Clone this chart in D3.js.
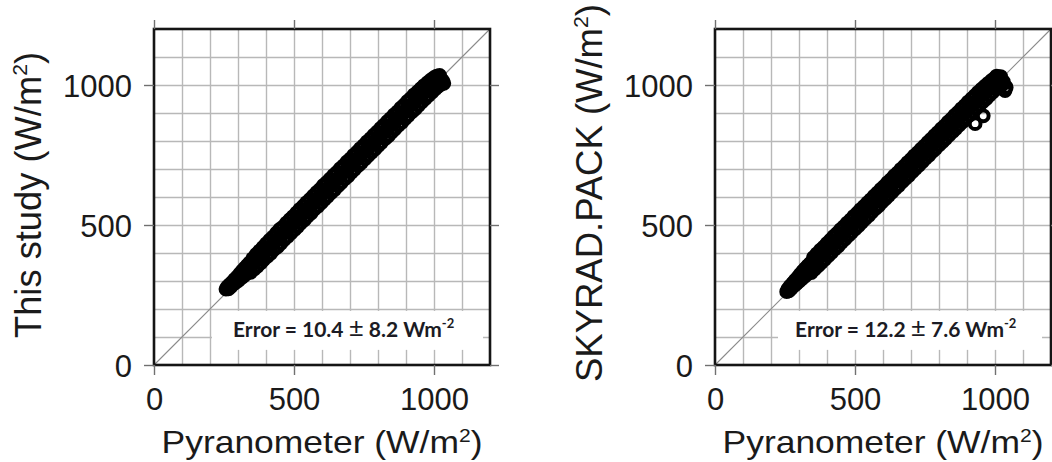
<!DOCTYPE html>
<html><head><meta charset="utf-8">
<script src="https://cdn.jsdelivr.net/npm/d3@7"></script>
<style>body{margin:0;background:#fff} svg{display:block}</style>
</head><body><svg id="c" width="1052" height="462"></svg>
<script>
// ---------- data ----------
const axisDomain = [0, 1200];
const tickValues = [0, 500, 1000];
const tickLabels = ["0", "500", "1000"];
const gridValues = [100, 200, 300, 400, 500, 600, 700, 800, 900, 1000, 1100];
const xTitle = "Pyranometer (W/m";
const yTitles = ["This study (W/m", "SKYRAD.PACK (W/m"];
const errorMean = [10.4, 12.2];
const errorSd = [8.2, 7.6];

// [pyranometer, this study] (W/m2)
const thisStudyPoints = [
[257,271],[262,279],[266,272],[270,287],[275,280],[279,295],[284,289],[288,305],[293,296],[297,314],
[302,303],[306,325],[311,311],[315,336],[320,318],[324,346],[329,326],[333,355],[338,333],[341,364],
[345,331],[349,357],[353,380],[357,342],[360,369],[365,395],[369,353],[372,380],[377,407],
[381,364],[385,393],[389,420],[392,377],[396,404],[401,433],[405,388],[408,418],[413,446],
[417,399],[421,429],[425,457],[428,412],[432,442],[437,471],[441,422],[445,453],[449,484],
[453,435],[457,466],[461,493],[465,448],[468,476],[473,507],[476,458],[480,489],[485,519],
[489,471],[493,502],[497,530],[501,483],[504,513],[509,543],[513,495],[517,527],[521,556],
[524,507],[528,538],[533,567],[537,519],[541,550],[545,580],[549,532],[552,561],[557,591],
[561,543],[565,575],[569,604],[572,556],[576,586],[581,616],[585,567],[589,599],[593,627],
[597,579],[600,610],[605,641],[609,592],[613,623],[617,652],[620,603],[624,635],[629,664],
[633,616],[637,647],[641,677],[645,627],[648,659],[653,688],[657,640],[661,671],[665,701],
[668,651],[672,683],[677,712],[681,664],[685,695],[689,725],[693,675],[696,707],[701,736],
[705,688],[709,719],[713,749],[716,699],[720,731],[725,760],[729,712],[733,743],[737,773],
[741,723],[744,755],[749,784],[753,736],[757,767],[761,797],[764,747],[768,779],[773,808],
[777,760],[781,791],[785,821],[789,771],[792,803],[797,832],[801,784],[805,815],[809,845],
[812,795],[816,827],[821,856],[825,808],[829,839],[833,869],[837,819],[840,851],[845,880],
[849,832],[853,863],[857,893],[860,843],[864,875],[869,904],[873,856],[877,887],[881,917],
[885,867],[888,899],[893,928],[897,880],[901,911],[905,941],[908,891],[912,923],[917,952],
[921,904],[925,935],[929,965],[933,915],[936,947],[941,975],[945,928],[949,958],[953,987],
[956,939],[960,970],[965,998],[969,952],[973,982],[977,1008],[981,963],[984,994],[989,1018],
[993,975],[997,1005],[1000,1026],[1004,986],[1008,1014],[1010,1032],[1016,996],[1019,1020],
[1020,1034],[1027,1004],[1030,1016],[1035,1006]
];

// [pyranometer, SKYRAD.PACK] (W/m2)
const skyradPoints = [
[256,262],[260,271],[264,265],[268,281],[273,274],[277,291],[282,283],[286,302],[291,291],[295,312],
[300,299],[304,323],[309,307],[313,334],[318,315],[322,344],[327,323],[331,354],[336,331],[340,363],
[344,330],[348,358],[352,384],[356,343],[360,370],[364,397],[368,354],[371,383],[376,410],
[380,366],[384,394],[388,421],[392,378],[395,406],[400,434],[404,390],[407,418],[412,446],
[416,402],[420,431],[424,459],[428,414],[431,442],[436,470],[440,425],[444,455],[448,483],
[452,438],[455,466],[460,494],[464,450],[467,479],[472,507],[476,462],[480,490],[484,518],
[488,474],[491,503],[496,531],[500,486],[504,514],[508,542],[512,497],[515,527],[520,555],
[524,510],[528,538],[532,566],[536,522],[539,551],[544,579],[548,533],[552,562],[556,590],
[560,546],[563,575],[568,603],[572,558],[576,586],[580,614],[584,569],[587,599],[592,627],
[596,582],[600,610],[604,638],[608,594],[611,623],[616,651],[620,605],[624,634],[628,662],
[632,618],[635,647],[640,675],[644,630],[648,658],[652,686],[656,641],[659,671],[664,699],
[668,654],[672,682],[676,710],[680,666],[683,695],[688,723],[692,677],[696,706],[700,734],
[704,690],[707,719],[712,747],[716,702],[720,730],[724,758],[728,713],[731,743],[736,771],
[740,726],[744,754],[748,782],[752,738],[755,767],[760,795],[764,749],[768,778],[772,806],
[776,762],[779,791],[784,819],[788,773],[792,802],[796,830],[800,786],[803,815],[808,843],
[812,797],[816,826],[820,854],[824,809],[827,839],[832,867],[836,821],[840,850],[844,878],
[848,833],[851,863],[856,891],[860,845],[864,874],[868,902],[872,857],[875,887],[880,915],
[884,869],[888,898],[892,926],[896,881],[899,911],[904,939],[908,892],[912,922],[916,950],
[920,904],[923,935],[928,962],[932,916],[936,946],[940,974],[944,928],[947,958],[952,985],
[956,940],[960,970],[964,996],[968,951],[971,982],[976,1006],[980,963],[984,993],[988,1016],
[992,975],[995,1004],[1000,1025],[1004,986],[1008,1013],[1006,1032],[1015,995],[1018,1020],
[1020,1030],[1026,1002],[1030,1012],
[929,862],[958,890],[1036,980],[1040,992]
];

// ---------- layout ----------
const svg = d3.select("#c");
const panelTop = 29, size = 336;
const panels = [
  {left: 154, pts: thisStudyPoints, yTitle: yTitles[0], mean: errorMean[0], sd: errorSd[0],
   box: [207, 1175], textX: 282, yTitleLen: 286, yTitleMid: 166},
  {left: 715, pts: skyradPoints, yTitle: yTitles[1], mean: errorMean[1], sd: errorSd[1],
   box: [225, 1168], textX: 286, yTitleLen: 378, yTitleMid: 164}
];
const font = "'Liberation Sans', Arial, Helvetica, sans-serif";

panels.forEach(p => {
  const g = svg.append("g").attr("transform", `translate(${p.left},${panelTop})`);
  const x = d3.scaleLinear().domain(axisDomain).range([0, size]);
  const y = d3.scaleLinear().domain(axisDomain).range([size, 0]);

  const styleGrid = a => {
    a.select(".domain").remove();
    a.selectAll("line").attr("stroke", "#b8b8b8").attr("stroke-width", 1.4);
  };
  g.append("g").attr("transform", `translate(0,${size})`)
    .call(d3.axisBottom(x).tickValues(gridValues).tickSize(-size).tickFormat(""))
    .call(styleGrid);
  g.append("g")
    .call(d3.axisLeft(y).tickValues(gridValues).tickSize(-size).tickFormat(""))
    .call(styleGrid);

  // 1:1 line
  g.append("line")
    .attr("x1", x(axisDomain[0])).attr("y1", y(axisDomain[0]))
    .attr("x2", x(axisDomain[1])).attr("y2", y(axisDomain[1]))
    .attr("stroke", "#8a8a8a").attr("stroke-width", 1.1);

  // scatter
  g.append("g").selectAll("circle").data(p.pts).join("circle")
    .attr("cx", d => x(d[0])).attr("cy", d => y(d[1]))
    .attr("r", 5.4).attr("fill", "none")
    .attr("stroke", "#000").attr("stroke-width", 4);

  // error annotation
  g.append("rect")
    .attr("x", x(p.box[0])).attr("width", x(p.box[1]) - x(p.box[0]))
    .attr("y", y(193)).attr("height", y(54) - y(193))
    .attr("fill", "#fff");
  const t = g.append("text")
    .attr("x", x(p.textX)).attr("y", y(100))
    .attr("font-family", "Lato, 'Open Sans', sans-serif")
    .attr("font-weight", 700).attr("font-size", 21).attr("fill", "#1b1b24");
  t.append("tspan").text(`Error = ${p.mean} `);
  t.append("tspan").attr("font-size", 26).attr("font-weight", 400).text("±");
  t.append("tspan").text(` ${p.sd} Wm`);
  t.append("tspan").attr("font-size", 13).attr("dy", -9).text("-2");

  // frame
  g.append("rect").attr("width", size).attr("height", size)
    .attr("fill", "none").attr("stroke", "#151515").attr("stroke-width", 2.6);

  // major ticks
  const styleTicks = a => {
    a.select(".domain").remove();
    a.selectAll("line").attr("stroke", "#707070").attr("stroke-width", 1.4);
    a.attr("font-family", font).attr("font-size", 31);
    a.selectAll("text").attr("fill", "#1a1a1a");
  };
  g.append("g").attr("transform", `translate(0,${size})`)
    .call(d3.axisBottom(x).tickValues(tickValues).tickSize(10).tickFormat((d, i) => tickLabels[i]))
    .call(styleTicks)
    .call(a => a.selectAll("text").attr("y", 45).attr("dy", 0));
  g.append("g")
    .call(d3.axisLeft(y).tickValues(tickValues).tickSize(10).tickFormat((d, i) => tickLabels[i]))
    .call(styleTicks)
    .call(a => a.selectAll("text").attr("x", -22).attr("dy", "0.36em"));
  g.append("g")
    .call(d3.axisTop(x).tickValues(tickValues).tickSize(9).tickFormat(""))
    .call(styleTicks);
  g.append("g").attr("transform", `translate(${size},0)`)
    .call(d3.axisRight(y).tickValues(tickValues).tickSize(9).tickFormat(""))
    .call(styleTicks);

  // x title
  const xt = g.append("text").attr("x", size / 2).attr("y", 424)
    .attr("text-anchor", "middle").attr("font-family", font).attr("font-size", 32)
    .attr("fill", "#1a1a1a").attr("textLength", 321).attr("lengthAdjust", "spacingAndGlyphs");
  xt.append("tspan").text(xTitle);
  xt.append("tspan").attr("font-size", 19).attr("dy", -11).text("2");
  xt.append("tspan").attr("dy", 11).text(")");

  // y title
  const yt = g.append("text").attr("transform", "rotate(-90)")
    .attr("x", -p.yTitleMid).attr("y", -113)
    .attr("text-anchor", "middle").attr("font-family", font).attr("font-size", 36)
    .attr("fill", "#1a1a1a").attr("textLength", p.yTitleLen).attr("lengthAdjust", "spacingAndGlyphs");
  yt.append("tspan").text(p.yTitle);
  yt.append("tspan").attr("font-size", 21).attr("dy", -14).text("2");
  yt.append("tspan").attr("dy", 14).text(")");
});
</script>
</body></html>
